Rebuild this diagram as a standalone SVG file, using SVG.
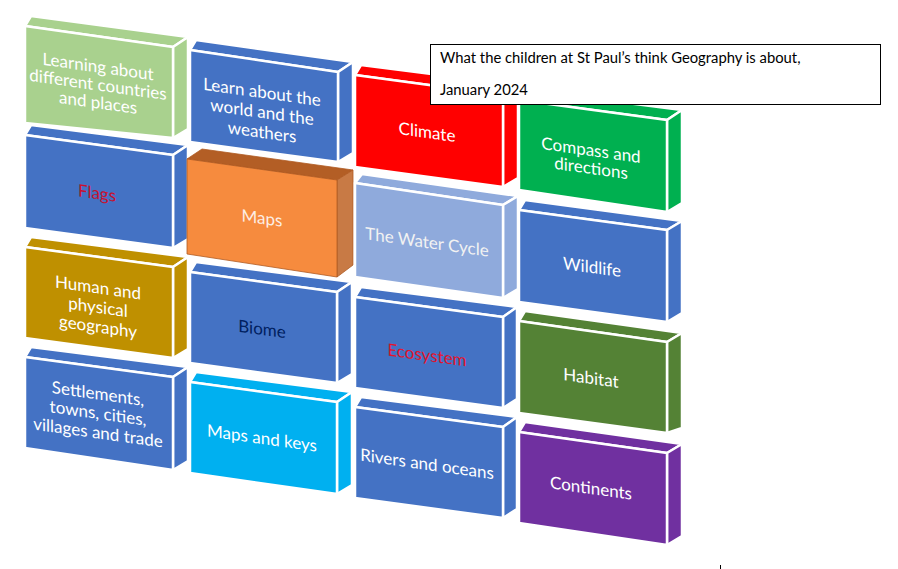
<svg xmlns="http://www.w3.org/2000/svg" width="898" height="569" viewBox="0 0 898 569">
<style>
.box polygon{stroke:#fff;stroke-width:2.5;stroke-linejoin:round}
.lg polygon{fill:#A9D18E}
.bl polygon{fill:#4472C4}
.rd polygon{fill:#FF0000}
.gr polygon{fill:#00B050}
.lb polygon{fill:#8FAADC}
.gd polygon{fill:#BF9000}
.cy polygon{fill:#00B0F0}
.dg polygon{fill:#548235}
.pu polygon{fill:#7030A0}
.or polygon{stroke:#B05A22;stroke-width:0.8}
.or .t{fill:#B35E25}
.or .s{fill:#C87A45}
.or .f{fill:#F68B3E}
text{font-family:Lato,"Liberation Sans",sans-serif;font-size:17px;fill:#fff;text-anchor:middle}
.tb{font-size:14.8px;fill:#000;text-anchor:start}
</style>
<rect width="898" height="569" fill="#fff"/>

<g id="connectors"></g>

<!-- Row 1 -->
<g id="n-learning" class="box lg">
<polygon points="25,26 31,16 188,37 173,47"/>
<polygon points="173,47 188,37 188,129 173,138"/>
<polygon points="25,26 173,47 173,138 25,123"/>
<g transform="translate(98,84.5) skewY(8)"><text y="-12">Learning about</text><text y="6">different countries</text><text y="24">and places</text></g>
</g>
<g id="n-learn-world" class="box bl">
<polygon points="190,50 196,40 353,62 338,72"/>
<polygon points="338,72 353,62 353,153 338,162"/>
<polygon points="190,50 338,72 338,162 190,142"/>
<g transform="translate(262,112) skewY(8)"><text y="-14">Learn about the</text><text y="6">world and the</text><text y="26">weathers</text></g>
</g>
<g id="n-climate" class="box rd">
<polygon points="355,75 361,65 518,85 503,95"/>
<polygon points="503,95 518,85 518,178 503,187"/>
<polygon points="355,75 503,95 503,187 355,167"/>
<g transform="translate(427,132) skewY(8)"><text y="6">Climate</text></g>
</g>
<g id="n-compass" class="box gr">
<polygon points="519,100 525,90 682,110 667,120"/>
<polygon points="667,120 682,110 682,203 667,212"/>
<polygon points="519,100 667,120 667,212 519,190"/>
<g transform="translate(591,159) skewY(8)"><text y="-3">Compass and</text><text y="15">directions</text></g>
</g>

<!-- Row 2 -->
<g id="n-flags" class="box bl">
<polygon points="25,135 31,125 188,145 173,155"/>
<polygon points="173,155 188,145 188,239 173,248"/>
<polygon points="25,135 173,155 173,248 25,228"/>
<g transform="translate(97,193) skewY(8)"><text y="6" style="fill:#C8102E">Flags</text></g>
</g>
<g id="n-maps" class="box or">
<polygon class="t" points="187,159 202,149 353,170 337,180"/>
<polygon class="s" points="337,180 353,170 353,265 337,277"/>
<polygon class="f" points="187,159 337,180 337,277 187,254"/>
<g transform="translate(262,218) skewY(8)"><text y="6" style="fill:#FDEEE4">Maps</text></g>
</g>
<g id="n-water" class="box lb">
<polygon points="355,183 362,174 518,196 503,205"/>
<polygon points="503,205 518,196 518,289 503,298"/>
<polygon points="355,183 503,205 503,298 355,277"/>
<g transform="translate(427,242) skewY(8)"><text y="6" style="fill:#F2F2F2">The Water Cycle</text></g>
</g>
<g id="n-wildlife" class="box bl">
<polygon points="519,210 525,200 682,221 667,230"/>
<polygon points="667,230 682,221 682,313 667,322"/>
<polygon points="519,210 667,230 667,322 519,302"/>
<g transform="translate(592,267) skewY(8)"><text y="6">Wildlife</text></g>
</g>

<!-- Row 3 -->
<g id="n-human" class="box gd">
<polygon points="25,247 31,237 188,257 173,267"/>
<polygon points="173,267 188,257 188,349 173,358"/>
<polygon points="25,247 173,267 173,358 25,338"/>
<g transform="translate(98,307) skewY(8)"><text y="-13.5">Human and</text><text y="6">physical</text><text y="25.5">geography</text></g>
</g>
<g id="n-biome" class="box bl">
<polygon points="190,272 196,262 352,282 337,292"/>
<polygon points="337,292 352,282 352,374 337,383"/>
<polygon points="190,272 337,292 337,383 190,363"/>
<g transform="translate(262,329) skewY(8)"><text y="6" style="fill:#002060">Biome</text></g>
</g>
<g id="n-ecosystem" class="box bl">
<polygon points="355,297 361,287 517,307 503,317"/>
<polygon points="503,317 517,307 517,399 503,408"/>
<polygon points="355,297 503,317 503,408 355,388"/>
<g transform="translate(427,355) skewY(8)"><text y="6" style="fill:#E0142D">Ecosystem</text></g>
</g>
<g id="n-habitat" class="box dg">
<polygon points="519,321 525,311 682,333 667,342"/>
<polygon points="667,342 682,333 682,428 667,433"/>
<polygon points="519,321 667,342 667,433 519,413"/>
<g transform="translate(591,378) skewY(8)"><text y="6">Habitat</text></g>
</g>

<!-- Row 4 -->
<g id="n-settlements" class="box bl">
<polygon points="25,357 31,347 188,367 173,377"/>
<polygon points="173,377 188,367 188,461 173,470"/>
<polygon points="25,357 173,377 173,470 25,448"/>
<g transform="translate(98,413) skewY(8)"><text y="-13.5">Settlements,</text><text y="6">towns, cities,</text><text y="25.5">villages and trade</text></g>
</g>
<g id="n-maps-keys" class="box cy">
<polygon points="190,382 196,372 352,392 337,402"/>
<polygon points="337,402 352,392 352,485 337,494"/>
<polygon points="190,382 337,402 337,494 190,473"/>
<g transform="translate(262,438) skewY(8)"><text y="6">Maps and keys</text></g>
</g>
<g id="n-rivers" class="box bl">
<polygon points="355,407 361,397 517,417 503,427"/>
<polygon points="503,427 517,417 517,509 503,518"/>
<polygon points="355,407 503,427 503,518 355,498"/>
<g transform="translate(427,464) skewY(8)"><text y="6">Rivers and oceans</text></g>
</g>
<g id="n-continents" class="box pu">
<polygon points="519,432 525,422 682,444 667,453"/>
<polygon points="667,453 682,444 682,536 667,545"/>
<polygon points="519,432 667,453 667,545 519,523"/>
<g transform="translate(591,488) skewY(8)"><text y="6">Continents</text></g>
</g>

<!-- Title text box -->
<g id="n-title">
<rect x="430.5" y="44.5" width="450" height="60" fill="#fff" stroke="#000" stroke-width="1"/>
<text class="tb" x="440" y="63">What the children at St Paul’s think Geography is about,</text>
<text class="tb" x="440" y="95">January 2024</text>
</g>

<line x1="720.5" y1="565" x2="720.5" y2="569" stroke="#000" stroke-width="1"/>
</svg>
